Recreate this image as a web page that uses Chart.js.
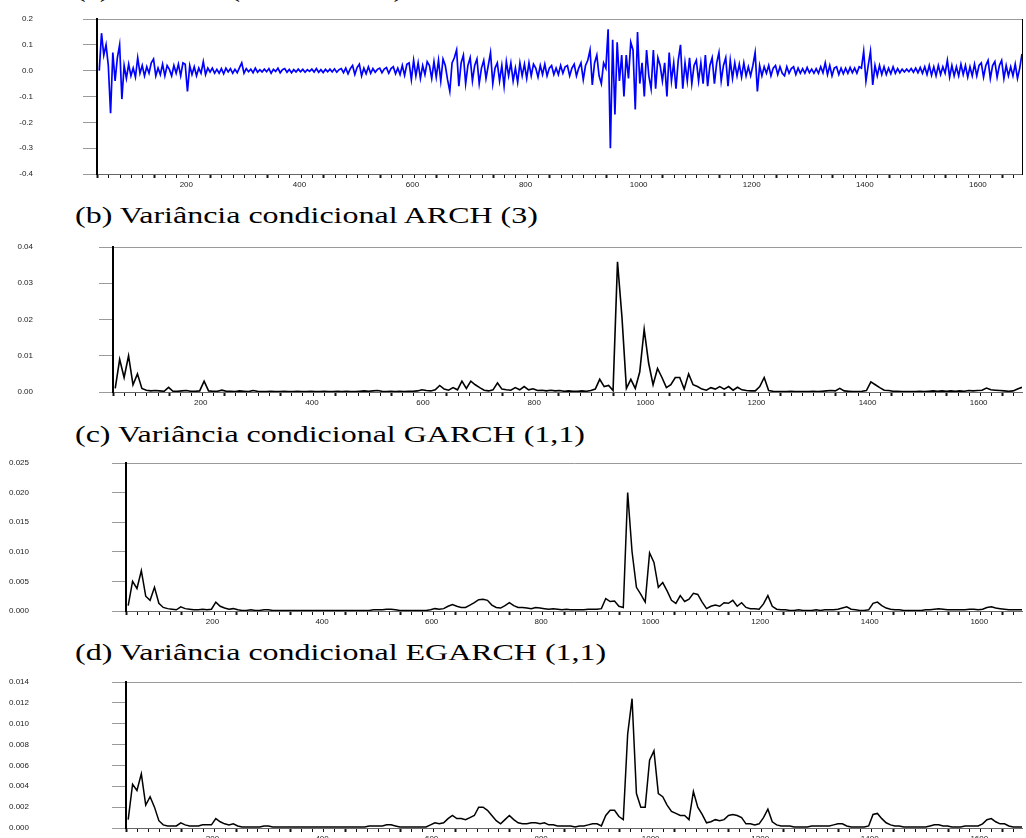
<!DOCTYPE html>
<html lang="pt">
<head>
<meta charset="utf-8">
<title>Retornos e variância condicional</title>
<script src="https://cdn.jsdelivr.net/npm/chart.js@4.4.1/dist/chart.umd.min.js"></script>
<style>
  html, body { margin: 0; padding: 0; background: #fff; }
  body { width: 1026px; height: 838px; position: relative; overflow: hidden; }
  canvas { position: absolute; left: 0; }
  .titulo {
    position: absolute; left: 75px;
    font-family: "Liberation Serif", "Times New Roman", serif;
    font-size: 23px; line-height: 23px; color: #000; white-space: nowrap;
    transform: scaleX(1.39); transform-origin: 0 0;
  }
</style>
</head>
<body>
<div class="titulo" style="top:-22px">(a) Retorno (IBOVESPA)</div>
<canvas id="graficoA" width="1026" height="190" style="top:0px"></canvas>
<div class="titulo" style="top:204px">(b) Variância condicional ARCH (3)</div>
<canvas id="graficoB" width="1026" height="178" style="top:230px"></canvas>
<div class="titulo" style="top:423px">(c) Variância condicional GARCH (1,1)</div>
<canvas id="graficoC" width="1026" height="180" style="top:447px"></canvas>
<div class="titulo" style="top:641px">(d) Variância condicional EGARCH (1,1)</div>
<canvas id="graficoD" width="1026" height="179" style="top:665px"></canvas>
<script>
// observações (eixo x)
const X_MIN = 42;
const X_MAX = 1678;
const rotulosX = [200, 400, 600, 800, 1000, 1200, 1400, 1600];

// retornos: uma leitura a cada 4 observações, a partir da obs. 46
const RET_INICIO = 46, RET_PASSO = 4;
const retornos = [
  0.0, 0.145, 0.06, 0.10, 0.02, -0.165, 0.07, -0.04, 0.05, 0.10,
  -0.11, 0.02, -0.03, 0.025, -0.02, 0.01, -0.025, 0.05, -0.01, 0.02,
  -0.02, 0.015, -0.01, 0.03, 0.045, -0.02, 0.01, -0.015, 0.025, -0.02,
  0.02, 0.005, -0.02, 0.02, -0.01, 0.025, -0.02, 0.03, 0.025, -0.08,
  0.02, -0.015, 0.015, -0.02, 0.01, -0.01, 0.035, -0.015, 0.01, -0.005,
  0.01, -0.01, 0.005, -0.01, 0.008, -0.012, 0.01, -0.005, 0.008, -0.01,
  0.005, -0.008, 0.012, 0.03, -0.01, 0.008, -0.004, 0.006, -0.008, 0.01,
  -0.006, 0.004, -0.005, 0.006, -0.004, 0.008, -0.01, 0.005, -0.003, 0.01,
  -0.008, 0.004, 0.008, -0.006, 0.005, -0.008, 0.004, -0.005, 0.006, -0.004,
  0.005, -0.006, 0.004, -0.003, 0.006, -0.005, 0.008, -0.006, 0.004, -0.007,
  0.005, -0.004, 0.006, -0.005, 0.007, -0.006, 0.004, 0.008, -0.008, 0.01,
  -0.012, 0.008, 0.02, -0.015, 0.012, 0.025, -0.02, 0.01, -0.012, 0.015,
  -0.01, 0.008, -0.006, 0.005, 0.01, -0.008, 0.006, 0.012, -0.01, 0.008,
  0.015, -0.012, 0.01, -0.015, 0.02, -0.018, 0.025, 0.03, -0.035, 0.04,
  -0.02, 0.03, -0.03, 0.02, -0.015, 0.035, 0.02, -0.03, 0.035, -0.025,
  0.04, -0.04, 0.045, 0.02, -0.035, -0.08, 0.03, 0.05, 0.08, -0.06,
  0.03, 0.06, -0.05, 0.02, 0.05, -0.04, 0.02, 0.045, -0.05, 0.01,
  0.04, -0.03, 0.02, 0.07, -0.05, 0.01, 0.03, -0.04, 0.02, -0.06,
  0.035, -0.02, 0.03, -0.04, 0.01, -0.045, 0.03, -0.02, 0.025, -0.03,
  0.03, -0.02, 0.025, 0.01, -0.025, 0.02, -0.015, 0.025, -0.02, 0.01,
  0.02, -0.015, 0.01, -0.015, 0.02, -0.01, 0.015, 0.02, -0.02, 0.01,
  0.025, -0.02, 0.01, 0.03, -0.035, 0.02, 0.04, 0.08, -0.055, 0.03,
  0.06, -0.02, -0.05, 0.03, 0.01, 0.16, -0.30, 0.12, -0.17, 0.11,
  -0.04, 0.06, -0.10, 0.06, -0.03, 0.11, 0.08, -0.15, 0.15, -0.05,
  0.03, -0.10, 0.08, -0.02, -0.07, 0.08, -0.07, 0.05, 0.02, -0.04,
  0.03, -0.10, 0.07, -0.04, 0.03, -0.07, 0.04, 0.10, -0.07, 0.03,
  -0.04, 0.05, -0.05, 0.02, 0.04, -0.04, 0.03, -0.05, 0.06, -0.06,
  0.02, 0.05, -0.05, 0.03, 0.07, -0.04, 0.02, 0.05, -0.06, 0.04,
  -0.03, 0.03, -0.02, 0.025, -0.025, 0.03, -0.02, 0.015, -0.02, 0.02,
  0.07, -0.08, 0.02, -0.02, 0.015, -0.01, 0.02, -0.02, 0.01, 0.02,
  -0.015, 0.015, -0.01, -0.02, 0.015, -0.01, 0.008, 0.015, -0.015, 0.01,
  -0.01, 0.008, -0.01, 0.012, -0.008, 0.006, -0.01, 0.008, -0.01, 0.015,
  -0.008, 0.03, -0.015, 0.02, -0.02, 0.01, 0.015, -0.015, 0.01, -0.012,
  0.01, -0.01, 0.012, -0.008, 0.01, -0.01, 0.015, 0.01, 0.075, -0.04,
  0.02, 0.075, -0.055, 0.02, -0.02, 0.02, -0.015, 0.015, -0.015, 0.01,
  -0.012, 0.015, -0.01, 0.008, -0.008, 0.006, -0.005, 0.006, -0.004, 0.008,
  -0.006, 0.01, -0.008, 0.012, -0.01, 0.015, -0.015, 0.02, -0.018, 0.015,
  -0.02, 0.02, -0.015, 0.015, -0.01, 0.04, -0.025, 0.02, -0.02, 0.015,
  -0.02, 0.025, -0.015, 0.02, -0.025, 0.015, -0.02, 0.025, -0.02, 0.02,
  0.03, -0.025, 0.02, 0.04, -0.03, 0.02, 0.035, -0.025, 0.02, 0.04,
  -0.03, 0.02, -0.02, 0.015, -0.02, 0.025, -0.03, 0.01, 0.065
];

// variâncias condicionais: uma leitura a cada 8 observações, a partir da obs. 46
const VAR_INICIO = 46, VAR_PASSO = 8;
const varArch = [
  0.001, 0.009, 0.004, 0.010, 0.002, 0.005, 0.001, 0.0005, 0.0003, 0.0004,
  0.0003, 0.0002, 0.0013, 0.0002, 0.0002, 0.0003, 0.0004, 0.0002, 0.0002, 0.0003,
  0.003, 0.0003, 0.0002, 0.0002, 0.0005, 0.0002, 0.0002, 0.0001, 0.0003, 0.0002,
  0.0001, 0.0004, 0.0002, 0.0001, 0.0001, 0.0002, 0.0001, 0.0001, 0.0002, 0.0001,
  0.0001, 0.0002, 0.0001, 0.0001, 0.0002, 0.0001, 0.0001, 0.0002, 0.0001, 0.0001,
  0.0002, 0.0001, 0.0002, 0.0001, 0.0001, 0.0002, 0.0003, 0.0002, 0.0003, 0.0004,
  0.0002, 0.0001, 0.0002, 0.0001, 0.0002, 0.0001, 0.0002, 0.0002, 0.0003, 0.0006,
  0.0004, 0.0003, 0.0006, 0.0018, 0.0008, 0.0005, 0.0012, 0.0006, 0.003, 0.001,
  0.003, 0.002, 0.0012, 0.0005, 0.0003, 0.0006, 0.0025, 0.0008, 0.0006, 0.0005,
  0.0012, 0.0006, 0.0015, 0.0006, 0.0009, 0.0004, 0.0005, 0.0003, 0.0005, 0.0003,
  0.0004, 0.0002, 0.0003, 0.0002, 0.0002, 0.0003, 0.0002, 0.0004, 0.0008, 0.0035,
  0.0015, 0.0018, 0.0004, 0.0359, 0.0207, 0.001, 0.0035, 0.001, 0.0055, 0.0173,
  0.008, 0.002, 0.0065, 0.004, 0.0012, 0.002, 0.004, 0.004, 0.0008, 0.005,
  0.002, 0.0015, 0.0008, 0.0005, 0.0012, 0.0008, 0.0015, 0.0008, 0.0015, 0.0005,
  0.0013, 0.0006, 0.0004, 0.0003, 0.0003, 0.0015, 0.004, 0.0004, 0.0002, 0.0001,
  0.0001, 0.0001, 0.0002, 0.0001, 0.0001, 0.0001, 0.0001, 0.0002, 0.0001, 0.0002,
  0.0003, 0.0004, 0.0003, 0.001, 0.0003, 0.0002, 0.0001, 0.0001, 0.0002, 0.0004,
  0.0028, 0.002, 0.0012, 0.0005, 0.0004, 0.0002, 0.0002, 0.0001, 0.0001, 0.0001,
  0.0001, 0.0002, 0.0001, 0.0002, 0.0003, 0.0002, 0.0003, 0.0002, 0.0003, 0.0002,
  0.0003, 0.0002, 0.0004, 0.0003, 0.0004, 0.0005, 0.0011, 0.0006, 0.0005, 0.0004,
  0.0003, 0.0002, 0.0003, 0.0008, 0.0013
];
const varGarch = [
  0.0009, 0.005, 0.0038, 0.0068, 0.0025, 0.0018, 0.004, 0.0013, 0.0006, 0.0004,
  0.0003, 0.0002, 0.0007, 0.0004, 0.0003, 0.0002, 0.0002, 0.0003, 0.0002, 0.0003,
  0.0015, 0.0008, 0.0005, 0.0003, 0.0004, 0.0002, 0.0001, 0.0001, 0.0002, 0.0001,
  0.0001, 0.0002, 0.0002, 0.0001, 0.0001, 0.0001, 0.0001, 0.0001, 0.0001, 0.0001,
  0.0001, 0.0001, 0.0001, 0.0001, 0.0001, 0.0001, 0.0001, 0.0001, 0.0001, 0.0001,
  0.0001, 0.0001, 0.0001, 0.0001, 0.0001, 0.0001, 0.0002, 0.0002, 0.0002, 0.0003,
  0.0003, 0.0002, 0.0001, 0.0001, 0.0001, 0.0001, 0.0001, 0.0001, 0.0001, 0.0002,
  0.0004, 0.0003, 0.0004, 0.0008, 0.0011, 0.0008, 0.0006, 0.0006, 0.001, 0.0014,
  0.0019, 0.002, 0.0018, 0.001, 0.0006, 0.0005, 0.0009, 0.0014, 0.0009, 0.0006,
  0.0006, 0.0005, 0.0004, 0.0006, 0.0005, 0.0004, 0.0003, 0.0004, 0.0003, 0.0002,
  0.0003, 0.0002, 0.0002, 0.0002, 0.0002, 0.0003, 0.0003, 0.0003, 0.0004, 0.0021,
  0.0016, 0.0017, 0.0008, 0.0006, 0.0200, 0.0100, 0.004, 0.0028, 0.0015, 0.0098,
  0.0082, 0.004, 0.0048, 0.0034, 0.0018, 0.0013, 0.0026, 0.0016, 0.002, 0.003,
  0.0028, 0.0015, 0.0004, 0.0008, 0.001, 0.0008, 0.0014, 0.0013, 0.0018, 0.0008,
  0.0014, 0.0006, 0.0004, 0.0004, 0.0003, 0.0012, 0.0026, 0.0008, 0.0003, 0.0002,
  0.0002, 0.0001, 0.0001, 0.0002, 0.0001, 0.0001, 0.0001, 0.0002, 0.0001, 0.0002,
  0.0002, 0.0002, 0.0003, 0.0005, 0.0007, 0.0003, 0.0002, 0.0001, 0.0001, 0.0002,
  0.0013, 0.0015, 0.0009, 0.0005, 0.0003, 0.0002, 0.0002, 0.0001, 0.0001, 0.0001,
  0.0001, 0.0001, 0.0002, 0.0002, 0.0003, 0.0004, 0.0003, 0.0002, 0.0002, 0.0002,
  0.0002, 0.0002, 0.0003, 0.0003, 0.0002, 0.0003, 0.0006, 0.0007, 0.0005, 0.0004,
  0.0003, 0.0002, 0.0002, 0.0002, 0.0002
];
const varEgarch = [
  0.0008, 0.0042, 0.0036, 0.0052, 0.0022, 0.003, 0.002, 0.0007, 0.0003, 0.0002,
  0.0002, 0.0002, 0.0005, 0.0003, 0.0002, 0.0002, 0.0002, 0.0003, 0.0003, 0.0003,
  0.0009, 0.0006, 0.0004, 0.0003, 0.0004, 0.0002, 0.0001, 0.0001, 0.0001, 0.0001,
  0.0001, 0.0002, 0.0002, 0.0001, 0.0001, 0.0001, 0.0001, 0.0001, 0.0001, 0.0001,
  0.0001, 0.0001, 0.0001, 0.0001, 0.0001, 0.0001, 0.0001, 0.0001, 0.0001, 0.0001,
  0.0001, 0.0001, 0.0001, 0.0001, 0.0001, 0.0002, 0.0002, 0.0002, 0.0002, 0.0003,
  0.0003, 0.0002, 0.0001, 0.0001, 0.0001, 0.0001, 0.0001, 0.0001, 0.0001, 0.0003,
  0.0005, 0.0004, 0.0005, 0.0009, 0.0012, 0.0009, 0.0009, 0.0008, 0.001, 0.0012,
  0.002, 0.002, 0.0017, 0.0012, 0.0007, 0.0004, 0.0008, 0.0012, 0.0008, 0.0005,
  0.0004, 0.0004, 0.0005, 0.0005, 0.0004, 0.0005, 0.0003, 0.0003, 0.0002, 0.0002,
  0.0002, 0.0002, 0.0001, 0.0002, 0.0002, 0.0003, 0.0004, 0.0004, 0.0002, 0.0012,
  0.0017, 0.0017, 0.0011, 0.0008, 0.009, 0.0124, 0.0033, 0.002, 0.002, 0.0065,
  0.0074, 0.0033, 0.003, 0.0022, 0.0016, 0.0014, 0.0012, 0.0012, 0.0008, 0.0035,
  0.002, 0.0013, 0.0005, 0.0006, 0.0008, 0.0007, 0.0008, 0.0012, 0.0013, 0.0012,
  0.001, 0.0004, 0.0004, 0.0003, 0.0004, 0.001, 0.0018, 0.0006, 0.0003, 0.0002,
  0.0002, 0.0002, 0.0001, 0.0001, 0.0001, 0.0001, 0.0002, 0.0002, 0.0002, 0.0002,
  0.0002, 0.0003, 0.0004, 0.0004, 0.0002, 0.0001, 0.0001, 0.0001, 0.0001, 0.0002,
  0.0013, 0.0014, 0.0009, 0.0005, 0.0003, 0.0002, 0.0002, 0.0001, 0.0001, 0.0001,
  0.0001, 0.0001, 0.0001, 0.0002, 0.0003, 0.0003, 0.0002, 0.0002, 0.0001, 0.0001,
  0.0001, 0.0002, 0.0002, 0.0002, 0.0002, 0.0004, 0.0008, 0.0009, 0.0006, 0.0004,
  0.0004, 0.0002, 0.0001, 0.0001, 0.0001
];

// marcas do eixo x: pequenas a cada 20 obs., maiores a cada 100
const marcasX = [];
for (let v = 43; v <= X_MAX; v += 20) {
  marcasX.push(v);
}
const todasMarcasX = marcasX.concat(rotulosX).sort((a, b) => a - b);

const fonteEixo = { family: "'Liberation Sans', Arial, sans-serif", size: 8 };
const CINZA = "#9a9a9a";
const TRANSPARENTE = "rgba(0,0,0,0)";

function criarPainel(canvasId, inicio, passo, valores, cfg) {
  const pontos = valores.map((v, i) => ({ x: inicio + passo * i, y: v }));
  const escalas = {
    x: {
      type: "linear",
      min: X_MIN,
      max: X_MAX,
      afterBuildTicks: (escala) => {
        escala.ticks = todasMarcasX.map((v) => ({ value: v }));
      },
      afterFit: (escala) => {
        escala.height = 16;
        escala.paddingLeft = 0;
        escala.paddingRight = 0;
      },
      ticks: {
        autoSkip: false,
        maxRotation: 0,
        padding: 2,
        color: "#222",
        font: fonteEixo,
        callback: (v) => (rotulosX.includes(v) ? String(v) : "")
      },
      grid: {
        drawOnChartArea: false,
        tickLength: 4,
        tickColor: (ctx) => (ctx.tick && rotulosX.includes(ctx.tick.value) ? TRANSPARENTE : "#111"),
        tickWidth: (ctx) => (ctx.tick && (ctx.tick.value - 43) % 100 === 0 ? 2 : 1)
      },
      border: { color: "#666", width: 1 }
    },
    y: {
      min: cfg.min,
      max: cfg.max,
      afterFit: (escala) => {
        // o espaçamento dos rótulos não deve encolher a área vertical
        escala.width = cfg.esquerda;
        escala.paddingTop = 0;
        escala.paddingBottom = 0;
      },
      ticks: {
        stepSize: cfg.passo,
        padding: cfg.esquerda - 14 - cfg.rotuloDireita,
        color: "#222",
        font: fonteEixo,
        callback: (v) => Number(v).toFixed(cfg.casas)
      },
      grid: {
        tickLength: 14,
        tickColor: CINZA,
        color: (ctx) => (ctx.tick && Math.abs(ctx.tick.value - cfg.max) < 1e-9 ? CINZA : TRANSPARENTE)
      },
      border: { color: "#000", width: 2 }
    }
  };
  if (cfg.bordaDireita) {
    escalas.y2 = {
      position: "right",
      min: cfg.min,
      max: cfg.max,
      afterFit: (escala) => {
        escala.width = 1;
        escala.paddingTop = 0;
        escala.paddingBottom = 0;
      },
      ticks: { display: false },
      grid: { drawOnChartArea: false, drawTicks: false },
      border: { color: "#000", width: 1 }
    };
  }

  new Chart(document.getElementById(canvasId), {
    type: "line",
    data: {
      datasets: [{
        data: pontos,
        borderColor: cfg.cor,
        borderWidth: cfg.espessura,
        pointRadius: 0,
        fill: false,
        tension: 0
      }]
    },
    options: {
      responsive: false,
      animation: false,
      events: [],
      layout: {
        padding: { left: 0, right: cfg.bordaDireita ? 3 : 4, top: cfg.topo, bottom: 0 }
      },
      plugins: { legend: { display: false }, tooltip: { enabled: false } },
      scales: escalas
    }
  });
}

criarPainel("graficoA", RET_INICIO, RET_PASSO, retornos, {
  min: -0.4, max: 0.2, passo: 0.1, casas: 1, esquerda: 97, rotuloDireita: 33,
  topo: 19, cor: "#0000ff", espessura: 1.7, bordaDireita: true
});
criarPainel("graficoB", VAR_INICIO, VAR_PASSO, varArch, {
  min: 0, max: 0.04, passo: 0.01, casas: 2, esquerda: 113, rotuloDireita: 33,
  topo: 17, cor: "#000", espessura: 1.6
});
criarPainel("graficoC", VAR_INICIO, VAR_PASSO, varGarch, {
  min: 0, max: 0.025, passo: 0.005, casas: 3, esquerda: 126, rotuloDireita: 29,
  topo: 16, cor: "#000", espessura: 1.5
});
criarPainel("graficoD", VAR_INICIO, VAR_PASSO, varEgarch, {
  min: 0, max: 0.014, passo: 0.002, casas: 3, esquerda: 126, rotuloDireita: 29,
  topo: 17, cor: "#000", espessura: 1.5
});
</script>
</body>
</html>
